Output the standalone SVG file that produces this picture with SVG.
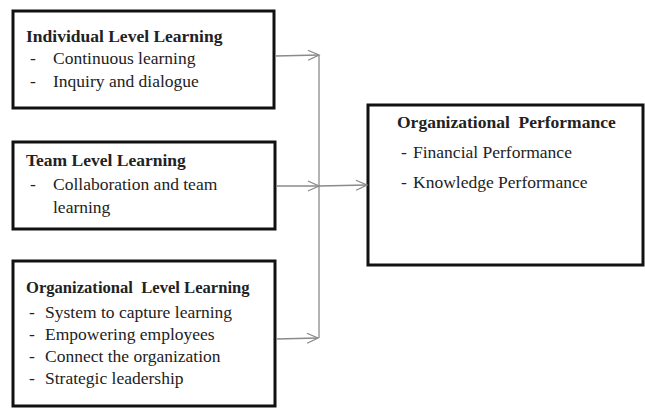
<svg xmlns="http://www.w3.org/2000/svg" width="645" height="410" viewBox="0 0 645 410">
  <style>
    .box { fill: #ffffff; stroke: #111111; stroke-width: 3; }
    .title { font-family: "Liberation Serif", "Times New Roman", serif; font-size: 17.5px; font-weight: bold; fill: #222222; white-space: pre; }
    .item { font-family: "Liberation Serif", "Times New Roman", serif; font-size: 17.5px; fill: #222222; }
    .conn { fill: none; stroke: #8a8a8a; stroke-width: 1.3; }
  </style>
  <defs>
    <marker id="open-arrow" markerWidth="14" markerHeight="12" refX="12" refY="6" orient="auto" markerUnits="userSpaceOnUse">
      <path d="M1,1 L12,6 L1,11" fill="none" stroke="#8a8a8a" stroke-width="1.3"/>
    </marker>
  </defs>

  <rect x="0" y="0" width="645" height="410" fill="#ffffff"/>

  <g id="individual-level">
    <rect class="box" x="13" y="11" width="261" height="97"/>
    <text class="title" x="26" y="42">Individual Level Learning</text>
    <text class="item" x="30" y="64">-</text>
    <text class="item" x="53" y="64">Continuous learning</text>
    <text class="item" x="30" y="87">-</text>
    <text class="item" x="53" y="87">Inquiry and dialogue</text>
  </g>

  <g id="team-level">
    <rect class="box" x="13" y="142" width="262" height="87"/>
    <text class="title" x="26" y="166">Team Level Learning</text>
    <text class="item" x="30" y="190">-</text>
    <text class="item" x="53" y="190">Collaboration and team</text>
    <text class="item" x="53" y="213">learning</text>
  </g>

  <g id="organizational-level">
    <rect class="box" x="13" y="261" width="262" height="145"/>
    <text class="title" x="26" y="293" style="font-size:16.6px" xml:space="preserve">Organizational  Level Learning</text>
    <text class="item" x="29" y="318">-</text>
    <text class="item" x="45" y="318">System to capture learning</text>
    <text class="item" x="29" y="340">-</text>
    <text class="item" x="45" y="340">Empowering employees</text>
    <text class="item" x="29" y="362">-</text>
    <text class="item" x="45" y="362">Connect the organization</text>
    <text class="item" x="29" y="384">-</text>
    <text class="item" x="45" y="384">Strategic leadership</text>
  </g>

  <g id="organizational-performance">
    <rect class="box" x="368" y="105" width="275" height="160"/>
    <text class="title" x="397" y="128" xml:space="preserve">Organizational  Performance</text>
    <text class="item" x="401" y="158">-</text>
    <text class="item" x="413" y="158">Financial Performance</text>
    <text class="item" x="401" y="188">-</text>
    <text class="item" x="413" y="188">Knowledge Performance</text>
  </g>

  <g id="connectors">
    <line class="conn" x1="319" y1="55" x2="319" y2="338"/>
    <line class="conn" x1="275" y1="56" x2="319" y2="55" marker-end="url(#open-arrow)"/>
    <line class="conn" x1="276" y1="186" x2="319" y2="186" marker-end="url(#open-arrow)"/>
    <line class="conn" x1="276" y1="339" x2="318" y2="338" marker-end="url(#open-arrow)"/>
    <line class="conn" x1="319" y1="186" x2="367" y2="185" marker-end="url(#open-arrow)"/>
  </g>
</svg>
